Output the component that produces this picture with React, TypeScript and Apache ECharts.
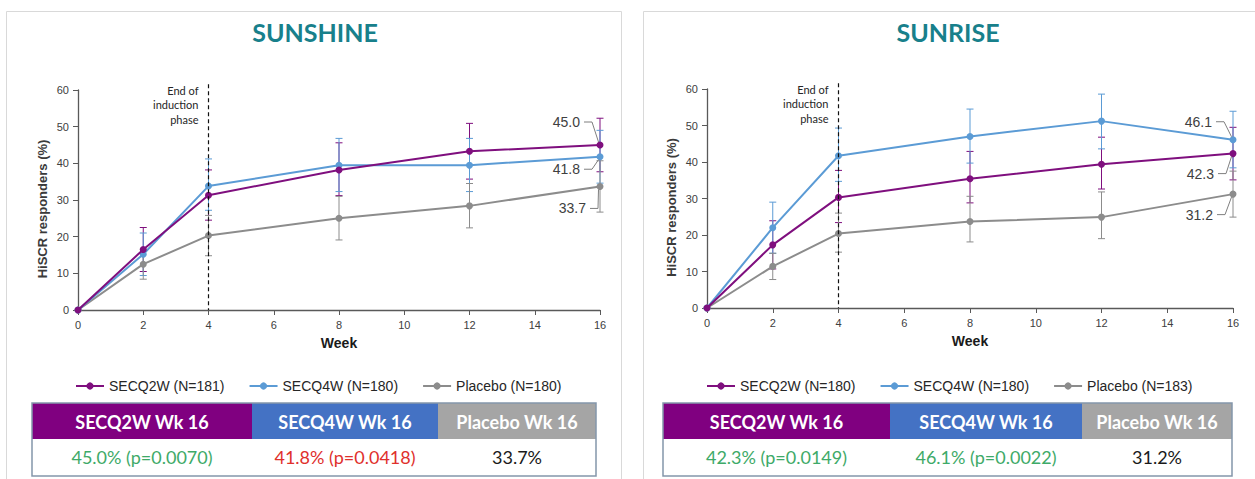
import React, { useEffect, useRef } from "react";
import * as echarts from "echarts";

// ---------- DATA ----------
const weeks = [0, 2, 4, 8, 12, 16];
const inductionWeek = 4;

const sunshineQ2W = [0, 16.5, 31.3, 38.2, 43.3, 45.0];
const sunshineQ2WLow = [null, 10.5, 24.5, 31.2, 35.7, 37.7];
const sunshineQ2WHigh = [null, 22.5, 38.2, 45.6, 50.9, 52.3];
const sunshineQ4W = [0, 15.2, 33.8, 39.5, 39.5, 41.8];
const sunshineQ4WLow = [null, 9.4, 27.2, 32.3, 32.3, 34.6];
const sunshineQ4WHigh = [null, 21.0, 41.2, 46.8, 46.8, 49.0];
const sunshinePbo = [0, 12.5, 20.3, 25.0, 28.4, 33.7];
const sunshinePboLow = [null, 8.4, 14.8, 19.1, 22.4, 26.7];
const sunshinePboHigh = [null, 16.6, 25.8, 31.0, 34.5, 40.7];

const sunriseQ2W = [0, 17.3, 30.3, 35.4, 39.4, 42.3];
const sunriseQ2WLow = [null, 10.7, 23.4, 28.8, 32.6, 35.1];
const sunriseQ2WHigh = [null, 23.9, 37.7, 42.9, 46.8, 49.5];
const sunriseQ4W = [0, 22.0, 41.7, 47.0, 51.2, 46.1];
const sunriseQ4WLow = [null, 15.0, 34.7, 39.7, 43.6, 38.4];
const sunriseQ4WHigh = [null, 29.0, 49.3, 54.5, 58.6, 53.9];
const sunrisePbo = [0, 11.4, 20.4, 23.7, 24.9, 31.2];
const sunrisePboLow = [null, 7.8, 15.3, 18.1, 19.0, 24.9];
const sunrisePboHigh = [null, 15.0, 26.0, 30.6, 31.8, 37.5];

const sunshineLegend = ["SECQ2W (N=181)", "SECQ4W (N=180)", "Placebo (N=180)"];
const sunriseLegend = ["SECQ2W (N=180)", "SECQ4W (N=180)", "Placebo (N=183)"];
const tableHeaders = ["SECQ2W Wk 16", "SECQ4W Wk 16", "Placebo Wk 16"];
const sunshinePValues = ["0.0070", "0.0418", null];
const sunrisePValues = ["0.0149", "0.0022", null];
const studyTitles = ["SUNSHINE", "SUNRISE"];
const inductionText = "End of\ninduction\nphase";

// ---------- STYLE / LAYOUT ----------
const ARIAL = "'Liberation Sans', Arial, sans-serif";
const CALIBRI = "Lato, 'Open Sans', sans-serif";
const COLORS = ["#7f0f7e", "#5b9bd5", "#8c8c8c"];
const HEADER_COLORS = ["#800080", "#4472c4", "#a5a5a5"];
const AXIS_COLOR = "#595959";
const INDUCTION_TOP = 61.6;

const layouts = [
  {
    grid: { left: 78, right: 655, top: 90, bottom: 169 },
    legendLeft: 70,
    titleX: 315,
    card: { x: 6.5, y: 11.5, width: 615, height: 500 },
    cols: [32, 252, 438, 596],
    callouts: [
      { dx: -20, dy: -23 },
      { dx: -20, dy: 12.5 },
      { dx: -14, dy: 22 },
    ],
    bodyColors: ["#3eaa68", "#e0302c", "#1a1a1a"],
  },
  {
    grid: { left: 707, right: 22, top: 89, bottom: 171 },
    legendLeft: 701,
    titleX: 948,
    card: { x: 643.5, y: 11.5, width: 640, height: 500 },
    cols: [663, 890, 1082, 1232],
    callouts: [
      { dx: -19, dy: 20 },
      { dx: -21, dy: -18 },
      { dx: -20, dy: 20.5 },
    ],
    bodyColors: ["#3eaa68", "#3eaa68", "#1a1a1a"],
  },
];
const TABLE_TOP = 403;
const TABLE_MID = 439;
const TABLE_BOTTOM = 476;

type Arm = { vals: number[]; low: (number | null)[]; high: (number | null)[] };

const studies: { arms: Arm[]; legend: string[]; p: (string | null)[] }[] = [
  {
    arms: [
      { vals: sunshineQ2W, low: sunshineQ2WLow, high: sunshineQ2WHigh },
      { vals: sunshineQ4W, low: sunshineQ4WLow, high: sunshineQ4WHigh },
      { vals: sunshinePbo, low: sunshinePboLow, high: sunshinePboHigh },
    ],
    legend: sunshineLegend,
    p: sunshinePValues,
  },
  {
    arms: [
      { vals: sunriseQ2W, low: sunriseQ2WLow, high: sunriseQ2WHigh },
      { vals: sunriseQ4W, low: sunriseQ4WLow, high: sunriseQ4WHigh },
      { vals: sunrisePbo, low: sunrisePboLow, high: sunrisePboHigh },
    ],
    legend: sunriseLegend,
    p: sunrisePValues,
  },
];

function txt(x: number, y: number, text: string, font: string, fill: string, align = "center", valign = "middle", extra: any = {}) {
  return {
    type: "text",
    x,
    y,
    silent: true,
    style: {
      text,
      font,
      fill,
      align,
      verticalAlign: valign,
      textAlign: align,
      textVerticalAlign: valign,
      ...extra,
    },
  };
}

function buildOption() {
  const grids: any[] = [];
  const xAxes: any[] = [];
  const yAxes: any[] = [];
  const series: any[] = [];
  const legends: any[] = [];
  const graphics: any[] = [];

  studies.forEach((study, si) => {
    const L = layouts[si];
    grids.push({ ...L.grid, containLabel: false });
    xAxes.push({
      gridIndex: si,
      type: "value",
      min: 0,
      max: 16,
      interval: 2,
      axisLine: { show: true, lineStyle: { color: AXIS_COLOR, width: 1.3 } },
      axisTick: { show: true, length: 5, lineStyle: { color: AXIS_COLOR } },
      axisLabel: { fontSize: 11, color: "#404040", fontFamily: ARIAL, margin: 9 },
      splitLine: { show: false },
      name: "Week",
      nameLocation: "middle",
      nameGap: 26,
      nameTextStyle: { fontWeight: "bold", fontSize: 14, color: "#1a1a1a", fontFamily: ARIAL },
    });
    yAxes.push({
      gridIndex: si,
      type: "value",
      min: 0,
      max: 60,
      interval: 10,
      axisLine: { show: true, lineStyle: { color: AXIS_COLOR, width: 1.3 } },
      axisTick: { show: true, length: 5, lineStyle: { color: AXIS_COLOR } },
      axisLabel: { fontSize: 11, color: "#404040", fontFamily: ARIAL, margin: 9 },
      splitLine: { show: false },
      name: "HiSCR responders (%)",
      nameLocation: "middle",
      nameGap: 29,
      nameRotate: 90,
      nameTextStyle: {
        fontSize: 13,
        fontWeight: "bold",
        color: "#3a3a3a",
        fontFamily: ARIAL,
        padding: [0, 18, 0, 0],
      },
    });

    // error bars
    study.arms.forEach((arm, ai) => {
      const color = COLORS[ai];
      const data = weeks
        .map((w, i) => (arm.low[i] == null ? null : [w, arm.low[i], arm.high[i]]))
        .filter((d) => d !== null);
      series.push({
        type: "custom",
        xAxisIndex: si,
        yAxisIndex: si,
        silent: true,
        z: 2,
        encode: { x: 0, y: [1, 2] },
        data,
        renderItem: (_p: any, api: any) => {
          const x = api.value(0);
          const a = api.coord([x, api.value(1)]);
          const b = api.coord([x, api.value(2)]);
          const w = 3.5;
          const st = { stroke: color, lineWidth: 1 };
          return {
            type: "group",
            children: [
              { type: "line", shape: { x1: a[0], y1: a[1], x2: b[0], y2: b[1] }, style: st },
              { type: "line", shape: { x1: a[0] - w, y1: a[1], x2: a[0] + w, y2: a[1] }, style: st },
              { type: "line", shape: { x1: b[0] - w, y1: b[1], x2: b[0] + w, y2: b[1] }, style: st },
            ],
          };
        },
      });
    });

    // lines (placebo drawn first so treatment lines are on top)
    [2, 1, 0].forEach((ai) => {
      const arm = study.arms[ai];
      const color = COLORS[ai];
      series.push({
        type: "line",
        name: study.legend[ai],
        xAxisIndex: si,
        yAxisIndex: si,
        data: weeks.map((w, i) => [w, arm.vals[i]]),
        symbol: "circle",
        symbolSize: 7,
        showSymbol: true,
        lineStyle: { width: 2, color },
        itemStyle: { color },
        z: 3 + (2 - ai),
      });
    });

    // callout labels at week 16
    const lastIdx = weeks.length - 1;
    series.push({
      type: "custom",
      xAxisIndex: si,
      yAxisIndex: si,
      silent: true,
      z: 6,
      encode: { x: 0, y: 1 },
      data: study.arms.map((arm) => [weeks[lastIdx], arm.vals[lastIdx]]),
      renderItem: (params: any, api: any) => {
        const p = api.coord([api.value(0), api.value(1)]);
        const off = L.callouts[params.dataIndex];
        const tx = p[0] + off.dx;
        const ty = p[1] + off.dy;
        const label = Number(api.value(1)).toFixed(1);
        return {
          type: "group",
          children: [
            {
              type: "text",
              style: {
                text: label,
                x: tx,
                y: ty,
                align: "right",
                verticalAlign: "middle",
                font: `14px ${ARIAL}`,
                fill: "#404040",
              },
            },
            {
              type: "polyline",
              shape: {
                points: [
                  [tx + 4, ty],
                  [tx + 12, ty],
                  [p[0] - 1.5, p[1] + (off.dy < 0 ? -3 : 3)],
                ],
              },
              style: { stroke: "#7f7f7f", lineWidth: 1, fill: null },
            },
          ],
        };
      },
    });

    // end of induction phase
    series.push({
      type: "custom",
      xAxisIndex: si,
      yAxisIndex: si,
      silent: true,
      z: 7,
      encode: { x: 0, y: 1 },
      data: [[inductionWeek, INDUCTION_TOP]],
      renderItem: (_p: any, api: any) => {
        const top = api.coord([api.value(0), api.value(1)]);
        const bottom = api.coord([api.value(0), 0]);
        return {
          type: "group",
          children: [
            {
              type: "line",
              shape: { x1: top[0], y1: top[1], x2: bottom[0], y2: bottom[1] },
              style: { stroke: "#111", lineWidth: 1.2, lineDash: [4, 3] },
            },
            {
              type: "text",
              style: {
                text: inductionText,
                x: top[0] - 10,
                y: top[1] - 1,
                align: "right",
                verticalAlign: "top",
                font: `11px ${CALIBRI}`,
                lineHeight: 14.5,
                fill: "#262626",
              },
            },
          ],
        };
      },
    });

    legends.push({
      data: study.legend.map((n) => ({ name: n })),
      left: L.legendLeft,
      top: 374,
      orient: "horizontal",
      itemWidth: 28,
      itemHeight: 9,
      itemGap: 24,
      selectedMode: false,
      textStyle: { fontFamily: ARIAL, fontSize: 14, color: "#262626" },
    });

    // card
    graphics.push({
      type: "rect",
      z: -10,
      silent: true,
      shape: L.card,
      style: { fill: "#fff", stroke: "#d9d9d9", lineWidth: 1 },
    });
    // title
    graphics.push(txt(L.titleX, 32, studyTitles[si], `bold 25px ${CALIBRI}`, "#18808b"));

    // table
    const c = L.cols;
    for (let k = 0; k < 3; k++) {
      graphics.push({
        type: "rect",
        silent: true,
        shape: { x: c[k], y: TABLE_TOP, width: c[k + 1] - c[k], height: TABLE_MID - TABLE_TOP },
        style: { fill: HEADER_COLORS[k] },
      });
      const cx = (c[k] + c[k + 1]) / 2;
      graphics.push(txt(cx, 421.5, tableHeaders[k], `bold 18px ${CALIBRI}`, "#ffffff"));
      const v = study.arms[k].vals[lastIdx].toFixed(1) + "%";
      const pv = study.p[k];
      const body = pv ? `${v} (p=${pv})` : v;
      graphics.push(txt(cx, 457, body, `18px ${CALIBRI}`, L.bodyColors[k]));
    }
    graphics.push({
      type: "rect",
      silent: true,
      shape: { x: c[0], y: TABLE_TOP, width: c[3] - c[0], height: TABLE_BOTTOM - TABLE_TOP },
      style: { fill: null, stroke: "#8496ab", lineWidth: 1.5 },
    });
  });

  return {
    animation: false,
    backgroundColor: "#ffffff",
    grid: grids,
    xAxis: xAxes,
    yAxis: yAxes,
    legend: legends,
    series,
    graphic: graphics,
  };
}

export default function App() {
  const ref = useRef<HTMLDivElement>(null);
  useEffect(() => {
    if (!ref.current) return;
    const chart = echarts.init(ref.current, undefined, { renderer: "svg" });
    chart.setOption(buildOption() as any);
    return () => chart.dispose();
  }, []);
  return (
    <div
      ref={ref}
      style={{ position: "absolute", left: 0, top: 0, width: 1255, height: 479, background: "#fff" }}
    />
  );
}
